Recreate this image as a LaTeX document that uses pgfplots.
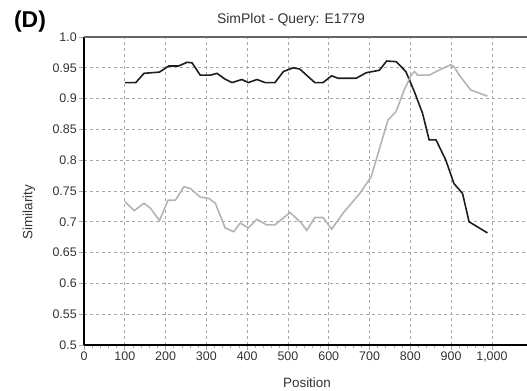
\documentclass[border=0pt]{standalone}
\usepackage{pgfplots}
\pgfplotsset{compat=1.18}
\usepackage{fontspec}
\setmainfont{Liberation Sans}
\definecolor{gridc}{HTML}{A8A8A8}
\definecolor{darkl}{HTML}{1E1E1E}
\definecolor{lightl}{HTML}{B4B4B4}
\definecolor{txt}{HTML}{333333}
\begin{document}
\begin{tikzpicture}
\begin{axis}[
  scale only axis,
  width=443bp, height=308bp,
  xmin=0, xmax=1086, ymin=0.5, ymax=1.0,
  axis x line*=bottom, axis y line*=left,
  axis line style={line width=1.6bp, black},
  xtick={0,100,200,300,400,500,600,700,800,900,1000},
  xticklabels={0,100,200,300,400,500,600,700,800,900,{1,000}},
  ytick={0.5,0.55,0.6,0.65,0.7,0.75,0.8,0.85,0.9,0.95,1.0},
  yticklabels={0.5,0.55,0.6,0.65,0.7,0.75,0.8,0.85,0.9,0.95,1.0},
  minor x tick num=4,
  tick align=outside,
  major tick length=5bp, minor tick length=3bp,
  tick style={gridc, line width=0.8bp},
  grid=major,
  major grid style={gridc, dashed, dash pattern=on 3bp off 3bp, line width=0.8bp},
  /pgf/number format/assume math mode=true,
  tick label style={font=\fontsize{12.5}{14}\selectfont, text=txt},
  xticklabel style={inner sep=1.5bp},
  yticklabel style={inner sep=2bp},
  clip=false,
]
\addplot[darkl, line width=1.6bp] table {
x y
100 0.926
127 0.926
147 0.941
185 0.943
208 0.953
232 0.953
253 0.959
265 0.958
285 0.938
310 0.938
326 0.941
345 0.932
363 0.926
387 0.931
403 0.926
424 0.931
444 0.926
468 0.926
489 0.944
513 0.950
529 0.948
554 0.933
566 0.926
586 0.926
607 0.937
623 0.933
667 0.933
692 0.942
724 0.946
742 0.961
765 0.960
789 0.944
810 0.911
830 0.876
846 0.833
863 0.833
887 0.800
907 0.762
928 0.746
944 0.700
989 0.682
};
\addplot[lightl, line width=1.6bp] table {
x y
100 0.733
123 0.718
147 0.730
163 0.722
185 0.702
206 0.735
224 0.735
245 0.757
261 0.754
285 0.740
306 0.738
322 0.730
346 0.690
367 0.684
383 0.698
403 0.690
424 0.704
448 0.695
468 0.695
505 0.715
533 0.698
546 0.686
566 0.707
586 0.707
607 0.688
635 0.714
676 0.746
704 0.773
745 0.865
765 0.879
785 0.914
802 0.938
810 0.944
818 0.938
846 0.938
879 0.949
899 0.955
907 0.952
920 0.938
948 0.914
989 0.904
};
\end{axis}
\draw[gray!80!black, line width=1.2bp] (0,308bp) -- (443bp,308bp);
\node[font=\fontsize{14}{16}\selectfont, text=txt] at (207bp,325bp) {SimPlot - Query: E1779};
\node[font=\fontsize{23}{26}\selectfont\bfseries] at (-54bp,323bp) {(D)};
\node[font=\fontsize{13.5}{16}\selectfont, text=txt] at (223bp,-38bp) {Position};
\node[font=\fontsize{13.5}{16}\selectfont, text=txt, rotate=90] at (-55bp,133bp) {Similarity};
\pgfresetboundingbox
\path[use as bounding box] (-84bp,-46bp) rectangle (443bp,345bp);
\end{tikzpicture}
\end{document}
